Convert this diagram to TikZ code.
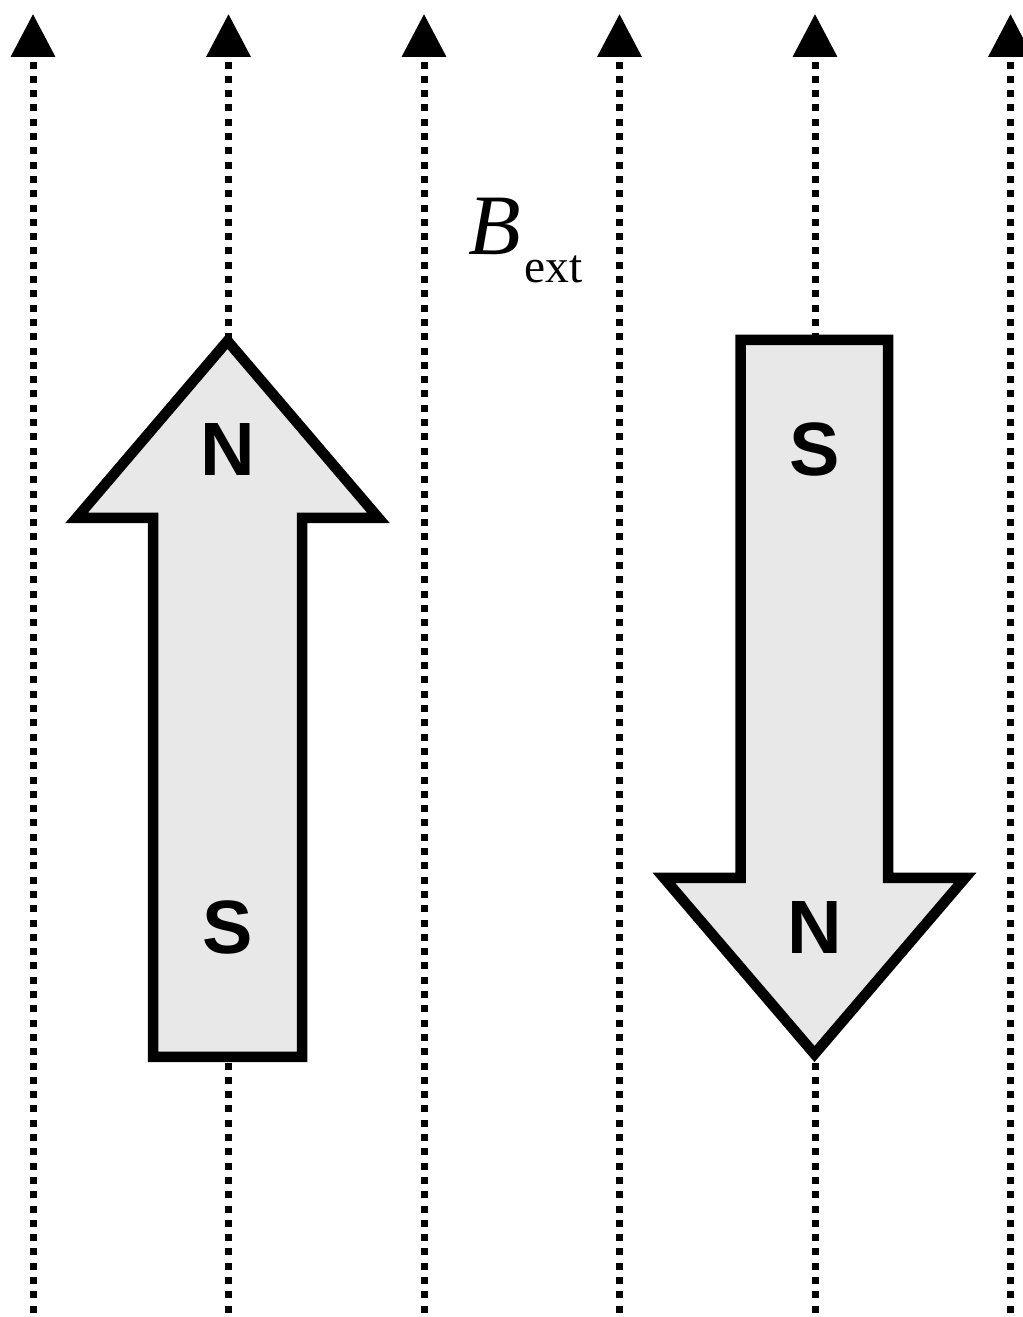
\documentclass[tikz,border=0pt]{standalone}
\usepackage{fontspec}
\setmainfont{Liberation Serif}
\setsansfont{Liberation Sans}
\usetikzlibrary{arrows.meta}
\definecolor{magnetgray}{RGB}{232,232,232}

\begin{document}
\begin{tikzpicture}[
        fieldline/.style={line width=0.07cm,dash pattern=on 0.07cm off 0.073cm,
            -{Triangle[width=0.43cm,length=0.43cm]}},
        magnet/.style={line width=0.105cm,line join=miter,fill=magnetgray},
        pole/.style={font=\sffamily\bfseries\fontsize{21.5}{24}\selectfont,inner sep=0pt}]
        \useasboundingbox (0,0) rectangle (10.23,13.17);
        \clip (0,0) rectangle (10.23,13.17);

        % external field lines
        \foreach \x in {0.33,2.285,4.24,6.195,8.15,10.105}
        \draw[fieldline] (\x,-0.1) -- (\x,13.03);

        \node[anchor=base west,inner sep=0pt] (bext) at (4.68,10.62)
        {{\fontsize{24.5}{28}\selectfont\textit{B}}\hspace{0.03cm}\raisebox{-0.28cm}{\fontsize{13.5}{16}\selectfont ext}};

        % magnet pointing up
        \draw[magnet] (2.275,9.76) -- (3.785,7.99) -- (3.02,7.99) -- (3.02,2.60)
        -- (1.53,2.60) -- (1.53,7.99) -- (0.765,7.99) -- cycle;
        \node[pole] (upN) at (2.275,8.67) {N};
        \node[pole] (upS) at (2.275,3.895) {S};

        % magnet pointing down
        \draw[magnet] (7.405,9.77) -- (8.88,9.77) -- (8.88,4.39) -- (9.65,4.39)
        -- (8.145,2.63) -- (6.64,4.39) -- (7.405,4.39) -- cycle;
        \node[pole] (downS) at (8.145,8.67) {S};
        \node[pole] (downN) at (8.145,3.895) {N};
    \end{tikzpicture}
\end{document}
